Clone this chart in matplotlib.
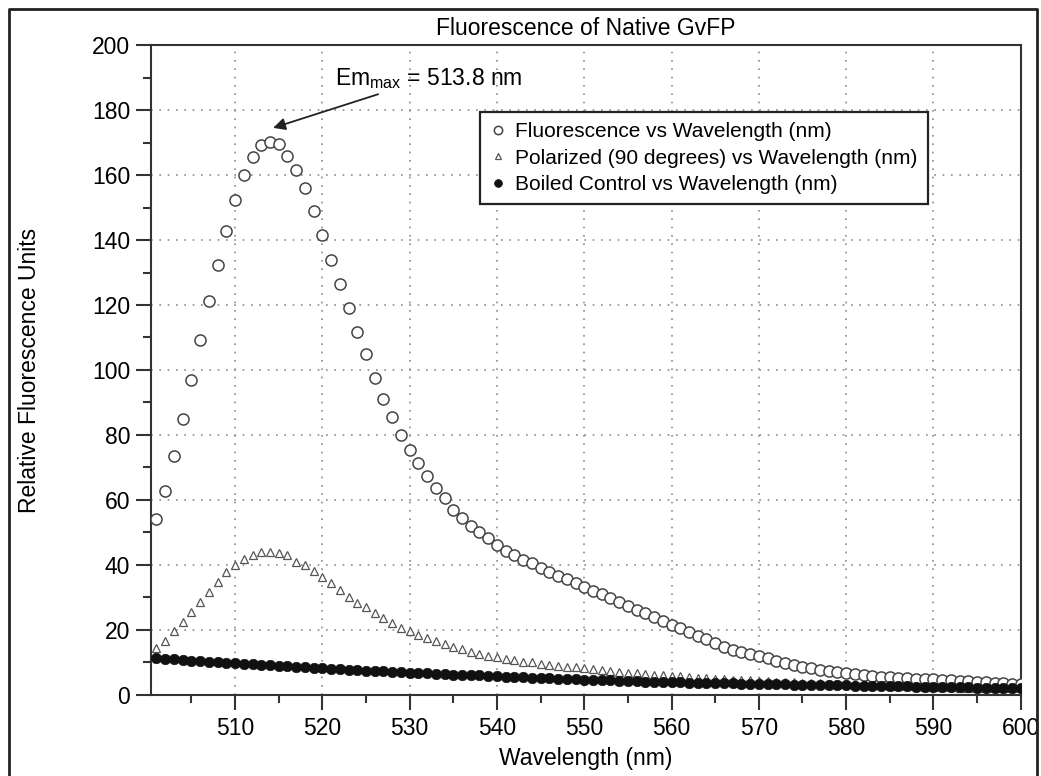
import matplotlib
matplotlib.use("Agg")
import matplotlib.pyplot as plt
import numpy as np
from matplotlib.ticker import MultipleLocator
from matplotlib.lines import Line2D

plt.rcParams['font.family'] = ['Liberation Sans', 'DejaVu Sans']
plt.rcParams['mathtext.fontset'] = 'custom'
plt.rcParams['mathtext.rm'] = 'Liberation Sans'

# wavelength grid (nm), one reading per nm
wavelength = np.arange(501, 601)

fluorescence = [
    54.2, 62.8, 73.5, 84.8, 96.9, 109.2, 121.2, 132.3, 142.7, 152.4,
    160.0, 165.6, 169.2, 170.3, 169.4, 165.8, 161.5, 156.1, 148.8, 141.5,
    134.0, 126.5, 119.0, 111.6, 104.8, 97.4, 91.2, 85.4, 80.1, 75.4,
    71.3, 67.4, 63.6, 60.5, 57.0, 54.6, 52.1, 50.3, 48.2, 46.3,
    44.4, 43.1, 41.5, 40.5, 39.2, 37.9, 36.6, 35.6, 34.6, 33.3,
    32.1, 31.1, 29.7, 28.7, 27.5, 26.3, 25.1, 23.9, 22.9, 21.5,
    20.5, 19.3, 18.2, 17.1, 15.9, 14.9, 13.8, 13.3, 12.5, 12.0,
    11.3, 10.5, 9.7, 9.2, 8.7, 8.2, 7.7, 7.5, 7.0, 6.7,
    6.5, 6.1, 5.9, 5.6, 5.4, 5.3, 5.2, 5.0, 4.9, 4.8,
    4.6, 4.5, 4.3, 4.2, 4.0, 3.9, 3.7, 3.6, 3.5, 3.4,
]

polarized = [
    14.4, 16.7, 19.7, 22.6, 25.6, 28.5, 31.8, 34.9, 37.7, 40.0,
    41.7, 43.1, 44.1, 43.9, 43.8, 43.1, 41.0, 40.0, 38.2, 36.4,
    34.4, 32.3, 30.3, 28.4, 27.0, 25.1, 23.6, 22.0, 20.6, 19.7,
    18.6, 17.5, 16.5, 15.6, 14.9, 14.0, 13.3, 12.6, 12.0, 11.6,
    11.1, 10.8, 10.3, 10.0, 9.6, 9.2, 8.9, 8.7, 8.5, 8.3,
    8.0, 7.7, 7.5, 7.2, 6.9, 6.7, 6.5, 6.2, 6.0, 5.9,
    5.7, 5.5, 5.3, 5.2, 5.0, 4.9, 4.7, 4.6, 4.5, 4.4,
    4.2, 4.1, 4.0, 3.9, 3.8, 3.7, 3.6, 3.5, 3.4, 3.3,
    3.2, 3.1, 3.0, 3.0, 2.9, 2.8, 2.7, 2.7, 2.6, 2.5,
    2.5, 2.4, 2.3, 2.3, 2.2, 2.2, 2.1, 2.1, 2.0, 2.0,
]

boiled = [
    11.3, 11.1, 11.0, 10.8, 10.6, 10.4, 10.3, 10.1, 9.9, 9.7,
    9.6, 9.4, 9.3, 9.1, 9.0, 8.8, 8.7, 8.5, 8.4, 8.2,
    8.1, 7.9, 7.8, 7.7, 7.5, 7.4, 7.3, 7.2, 7.0, 6.9,
    6.8, 6.7, 6.5, 6.4, 6.3, 6.2, 6.1, 6.0, 5.8, 5.7,
    5.6, 5.5, 5.4, 5.3, 5.2, 5.1, 5.0, 4.9, 4.8, 4.7,
    4.6, 4.5, 4.5, 4.4, 4.3, 4.2, 4.1, 4.1, 4.0, 3.9,
    3.9, 3.8, 3.8, 3.7, 3.7, 3.6, 3.6, 3.5, 3.5, 3.4,
    3.4, 3.3, 3.3, 3.2, 3.2, 3.2, 3.1, 3.1, 3.0, 3.0,
    2.9, 2.9, 2.9, 2.8, 2.8, 2.7, 2.7, 2.6, 2.6, 2.5,
    2.5, 2.4, 2.4, 2.4, 2.3, 2.3, 2.2, 2.2, 2.1, 2.1,
]

labels = [
    'Fluorescence vs Wavelength (nm)',
    'Polarized (90 degrees) vs Wavelength (nm)',
    'Boiled Control vs Wavelength (nm)',
]

fs = 16.5
fig = plt.figure(figsize=(10.41, 7.76), dpi=100)
ax = fig.add_axes([0.1448, 0.1044, 0.8357, 0.8376])

dark = '#333333'
ax.plot(wavelength, fluorescence, 'o', ms=8, mfc='white', mec='#444444', mew=1.1,
        ls='none', label=labels[0], zorder=3)
ax.plot(wavelength, polarized, '^', ms=6, mfc='white', mec='#555555', mew=0.9,
        ls='none', label=labels[1], zorder=4)
ax.plot(wavelength, boiled, 'o', ms=7.5, mfc='#111111', mec='#111111', mew=0.5,
        ls='none', label=labels[2], zorder=5)

ax.set_xlim(500.34, 600)
ax.set_ylim(0, 200)
ax.xaxis.set_major_locator(MultipleLocator(10))
ax.xaxis.set_minor_locator(MultipleLocator(5))
ax.yaxis.set_major_locator(MultipleLocator(20))
ax.yaxis.set_minor_locator(MultipleLocator(10))
ax.set_xticks(np.arange(510, 601, 10))

ax.grid(True, which='major', color='#8a8a8a', linestyle=(0, (1, 4)), linewidth=1.2)
ax.tick_params(which='major', direction='out', length=10.8, width=1.5, color=dark,
               labelsize=fs, pad=4)
ax.tick_params(which='minor', direction='out', length=6, width=1.5, color=dark)
ax.tick_params(axis='x', which='major', pad=5)
for s in ax.spines.values():
    s.set_linewidth(1.5)
    s.set_color(dark)

ax.set_title('Fluorescence of Native GvFP', fontsize=fs, pad=7)
ax.set_xlabel('Wavelength (nm)', fontsize=fs, labelpad=5)
ax.set_ylabel('Relative Fluorescence Units', fontsize=fs)
ax.yaxis.set_label_coords(-0.126, 0.5)

leg = ax.legend(loc='upper left', bbox_to_anchor=(0.3785, 0.897), borderaxespad=0,
                fancybox=False, framealpha=1, edgecolor='#222222', fontsize=15,
                handlelength=0.7, handletextpad=0.5, markerscale=0.75,
                labelspacing=0.35, borderpad=0.5)
leg.get_frame().set_linewidth(1.6)

ax.annotate(r'Em$_{\mathrm{max}}$ = 513.8 nm', xy=(514.36, 174.5), xytext=(521.4, 189.8),
            fontsize=fs, va='center', ha='left',
            arrowprops=dict(arrowstyle='-|>', color='#222222', lw=1.3,
                            mutation_scale=18, shrinkA=2, shrinkB=0))

# outer frame around the figure
fig.add_artist(Line2D([0.009, 0.009, 0.996, 0.996], [0.0, 0.988, 0.988, 0.0],
                      transform=fig.transFigure, color='#222222', lw=2))

fig.savefig('out.png', dpi=100)
